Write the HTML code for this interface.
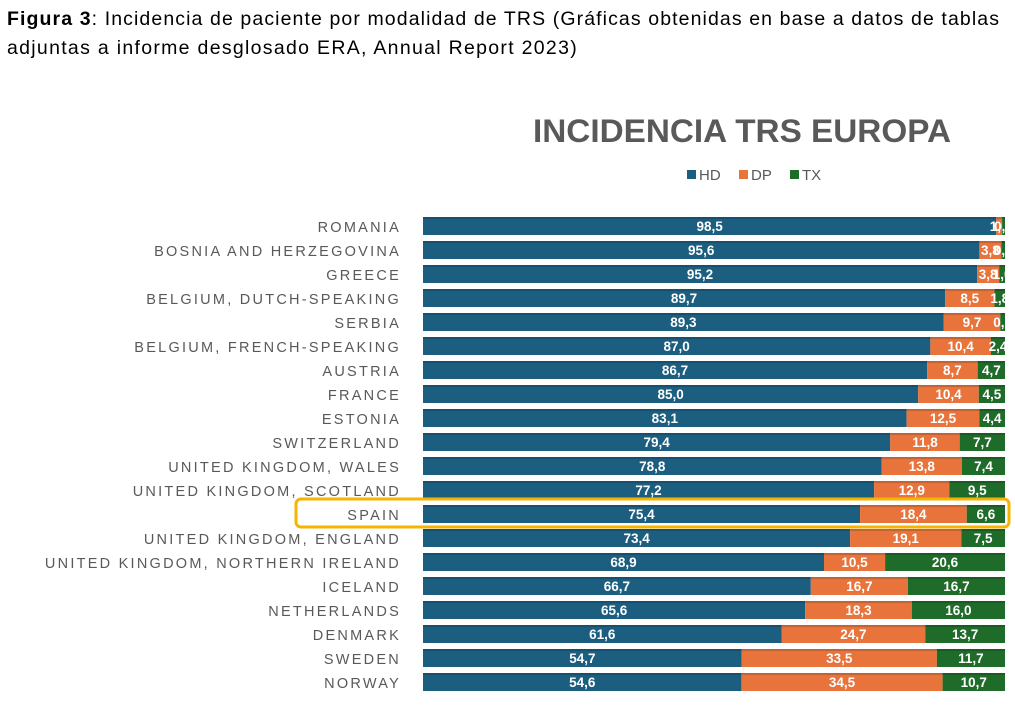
<!DOCTYPE html>
<html><head><meta charset="utf-8">
<style>
body{margin:0;background:#fff;width:1015px;height:710px;overflow:hidden;font-family:"Liberation Sans",sans-serif;}
.cap{position:absolute;left:7px;font-family:"Liberation Sans","DejaVu Sans",sans-serif;font-size:19.5px;line-height:29px;color:#000;white-space:nowrap;}
svg{position:absolute;left:0;top:0;}
</style></head><body>
<div>
<div class="cap" style="top:5px;letter-spacing:1.1px"><b>Figura 3</b>: Incidencia de paciente por modalidad de TRS (Gráficas obtenidas en base a datos de tablas</div>
<div class="cap" style="top:34px;letter-spacing:1.3px">adjuntas a informe desglosado ERA, Annual Report 2023)</div>
</div>
<svg id="chart" width="1015" height="710">
<text x="742" y="142" text-anchor="middle" font-size="32" font-weight="bold" fill="#595959" textLength="418" lengthAdjust="spacingAndGlyphs">INCIDENCIA TRS EUROPA</text>
<g font-size="15" fill="#595959">
<g><rect x="687" y="170" width="9" height="9" fill="#1b5e80"/><text x="699" y="180">HD</text></g>
<g><rect x="739" y="170" width="9" height="9" fill="#e8743b"/><text x="751" y="180">DP</text></g>
<g><rect x="790" y="170" width="9" height="9" fill="#1e6b2a"/><text x="802" y="180">TX</text></g>
</g>
<g id="bars"></g>
<rect x="296" y="499" width="713" height="28" rx="5" fill="none" stroke="#f5b400" stroke-width="3"/>
</svg>
<script>
const countries=["ROMANIA","BOSNIA AND HERZEGOVINA","GREECE","BELGIUM, DUTCH-SPEAKING","SERBIA","BELGIUM, FRENCH-SPEAKING","AUSTRIA","FRANCE","ESTONIA","SWITZERLAND","UNITED KINGDOM, WALES","UNITED KINGDOM, SCOTLAND","SPAIN","UNITED KINGDOM, ENGLAND","UNITED KINGDOM, NORTHERN IRELAND","ICELAND","NETHERLANDS","DENMARK","SWEDEN","NORWAY"];
const hd=[98.5,95.6,95.2,89.7,89.3,87.0,86.7,85.0,83.1,79.4,78.8,77.2,75.4,73.4,68.9,66.7,65.6,61.6,54.7,54.6];
const dp=[1.0,3.8,3.8,8.5,9.7,10.4,8.7,10.4,12.5,11.8,13.8,12.9,18.4,19.1,10.5,16.7,18.3,24.7,33.5,34.5];
const tx=[0.5,0.6,1.0,1.8,0.8,2.4,4.7,4.5,4.4,7.7,7.4,9.5,6.6,7.5,20.6,16.7,16.0,13.7,11.7,10.7];
const NS="http://www.w3.org/2000/svg";
const g=document.getElementById('bars');
const x0=423,W=582;
function xs(v,t){return v/t*W;}
function yrow(i){return 217+i*24;}
const fmt=v=>v.toFixed(1).replace('.',',');
function mk(tag,attrs,parent){const e=document.createElementNS(NS,tag);for(const k in attrs)e.setAttribute(k,attrs[k]);parent.appendChild(e);return e;}
countries.forEach((c,i)=>{
  const y=yrow(i),h=18,tot=hd[i]+dp[i]+tx[i];
  const lab=mk('text',{x:401,y:y+15,'text-anchor':'end','font-size':14.5,fill:'#595959','letter-spacing':'2.25'},g);
  lab.textContent=c;
  
  
  let x=x0;
  const segs=[[hd[i],'#1b5e80','bar-hd'],[dp[i],'#e8743b','bar-dp'],[tx[i],'#1e6b2a','bar-tx']];
  segs.forEach(([v,col,nm])=>{
    const w=xs(v,tot);
    const r=mk('rect',{x:x,y:y,width:w,height:h,fill:col},g);
    
    
    const t=mk('text',{x:x+w/2,y:y+14,'text-anchor':'middle','font-size':13.5,'font-weight':'bold',fill:'#fff'},g);
    t.textContent=fmt(v);
    
    
    x+=w;
  });
  mk('rect',{x:x0,y:y,width:W,height:2,fill:'#000','fill-opacity':0.15},g);
});
</script>
</body></html>
